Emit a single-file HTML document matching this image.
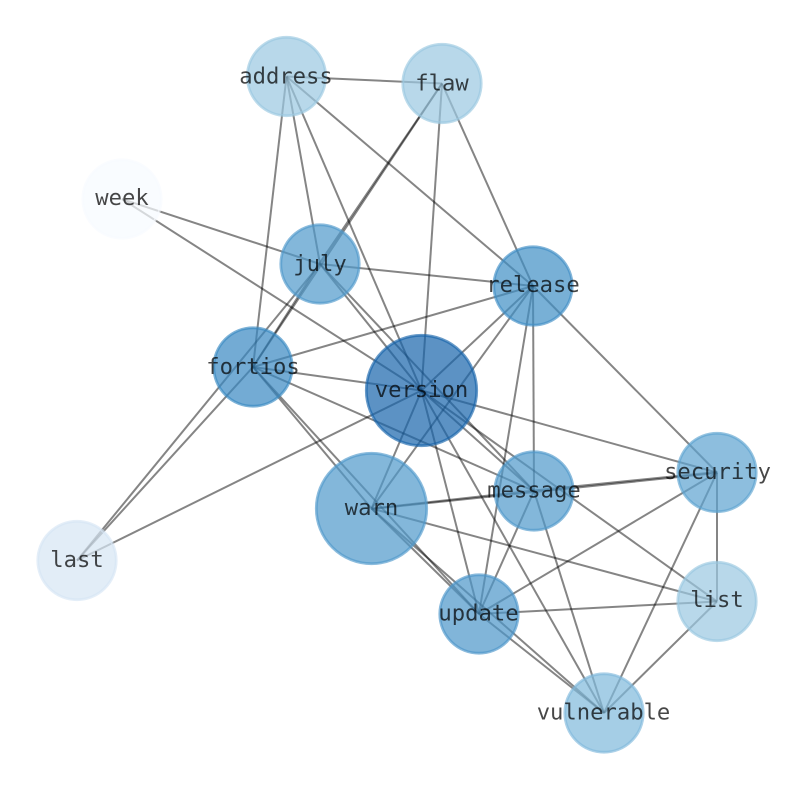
<!DOCTYPE html>
<html><head><meta charset="utf-8"><style>html,body{margin:0;padding:0;background:#fff}svg{display:block}text{font-family:"DejaVu Sans Mono",monospace;font-size:22.2px;fill:#000;fill-opacity:.72;text-anchor:middle}circle{stroke-width:2.8;fill-opacity:.7;stroke-opacity:.65}line{stroke:#000;stroke-opacity:.48;stroke-width:2}</style></head><body>
<svg width="794" height="790" viewBox="0 0 794 790" xmlns="http://www.w3.org/2000/svg">
<g>
<line x1="286.5" y1="76.5" x2="442" y2="83.5"/>
<line x1="286.5" y1="76.5" x2="253" y2="367"/>
<line x1="286.5" y1="76.5" x2="320" y2="264"/>
<line x1="286.5" y1="76.5" x2="421.5" y2="390.5"/>
<line x1="286.5" y1="76.5" x2="533" y2="286"/>
<line x1="442" y1="83.5" x2="319.5" y2="263.3"/>
<line x1="442" y1="83.5" x2="253" y2="367"/>
<line x1="442" y1="83.5" x2="421.5" y2="390.5"/>
<line x1="442" y1="83.5" x2="533" y2="286"/>
<line x1="122" y1="199" x2="320" y2="264"/>
<line x1="122" y1="199" x2="421.5" y2="390.5"/>
<line x1="319.5" y1="263.3" x2="253" y2="367"/>
<line x1="320" y1="264" x2="77" y2="560.5"/>
<line x1="320" y1="264" x2="533" y2="286"/>
<line x1="320" y1="264" x2="421.5" y2="390.5"/>
<line x1="320" y1="264" x2="534" y2="491"/>
<line x1="253" y1="367" x2="77" y2="560.5"/>
<line x1="253" y1="367" x2="533" y2="286"/>
<line x1="253" y1="367" x2="421.5" y2="390.5"/>
<line x1="253" y1="367" x2="534" y2="491"/>
<line x1="253" y1="367" x2="371.5" y2="508.5"/>
<line x1="253" y1="367" x2="479" y2="614"/>
<line x1="421.5" y1="390.5" x2="533" y2="286"/>
<line x1="421.5" y1="390.5" x2="77" y2="560.5"/>
<line x1="421.5" y1="390.5" x2="371.5" y2="508.5"/>
<line x1="421.5" y1="390.5" x2="534" y2="491"/>
<line x1="421.5" y1="390.5" x2="717" y2="472.5"/>
<line x1="421.5" y1="390.5" x2="479" y2="614"/>
<line x1="421.5" y1="390.5" x2="717" y2="601.5"/>
<line x1="421.5" y1="390.5" x2="604" y2="713"/>
<line x1="533" y1="286" x2="371.5" y2="508.5"/>
<line x1="533" y1="286" x2="479" y2="614"/>
<line x1="533" y1="286" x2="534" y2="491"/>
<line x1="533" y1="286" x2="717" y2="472.5"/>
<line x1="371.5" y1="508.5" x2="534" y2="490.5"/>
<line x1="371.5" y1="509" x2="717" y2="473"/>
<line x1="371.5" y1="508.5" x2="717" y2="601.5"/>
<line x1="371.5" y1="508.5" x2="479" y2="614"/>
<line x1="371.5" y1="508.5" x2="604" y2="713"/>
<line x1="534" y1="490.5" x2="717" y2="472"/>
<line x1="534" y1="491" x2="479" y2="614"/>
<line x1="534" y1="491" x2="604" y2="713"/>
<line x1="717" y1="472.5" x2="479" y2="614"/>
<line x1="717" y1="472.5" x2="717" y2="601.5"/>
<line x1="717" y1="472.5" x2="604" y2="713"/>
<line x1="479" y1="614" x2="717" y2="601.5"/>
<line x1="479" y1="614" x2="604" y2="713"/>
<line x1="717" y1="601.5" x2="604" y2="713"/>
</g>
<g>
<circle cx="286.5" cy="76.5" r="39.2" fill="#9ac8e1" stroke="#9ac8e1"/>
<circle cx="442" cy="83.5" r="39.2" fill="#9ac8e1" stroke="#9ac8e1"/>
<circle cx="122" cy="199" r="39.2" fill="#f7fbff" stroke="#f7fbff"/>
<circle cx="320" cy="264" r="39.2" fill="#4f98cb" stroke="#4f98cb"/>
<circle cx="533" cy="286" r="39.2" fill="#3f8ec5" stroke="#3f8ec5"/>
<circle cx="253" cy="367" r="39.2" fill="#3888c2" stroke="#3888c2"/>
<circle cx="421.5" cy="390.5" r="55.2" fill="#1764ab" stroke="#1764ab"/>
<circle cx="371.5" cy="508.5" r="55.2" fill="#4f98cb" stroke="#4f98cb"/>
<circle cx="534" cy="491" r="39.2" fill="#4f98cb" stroke="#4f98cb"/>
<circle cx="717" cy="472.5" r="39.2" fill="#5ca3d0" stroke="#5ca3d0"/>
<circle cx="479" cy="614" r="39.2" fill="#4b95c9" stroke="#4b95c9"/>
<circle cx="717" cy="601.5" r="39.2" fill="#9ac8e1" stroke="#9ac8e1"/>
<circle cx="604" cy="713" r="39.2" fill="#7fb9db" stroke="#7fb9db"/>
<circle cx="77" cy="560.5" r="39.2" fill="#d6e5f4" stroke="#d6e5f4"/>
</g>
<g>
<text x="286" y="83.5">address</text>
<text x="442" y="90.5">flaw</text>
<text x="122" y="205">week</text>
<text x="320" y="271">july</text>
<text x="533" y="292">release</text>
<text x="253" y="374">fortios</text>
<text x="421.5" y="397">version</text>
<text x="371.5" y="515">warn</text>
<text x="534" y="497.5">message</text>
<text x="717.5" y="479">security</text>
<text x="478.5" y="620.5">update</text>
<text x="717" y="607">list</text>
<text x="603.5" y="719.5">vulnerable</text>
<text x="77" y="567">last</text>
</g>
</svg>
</body></html>
